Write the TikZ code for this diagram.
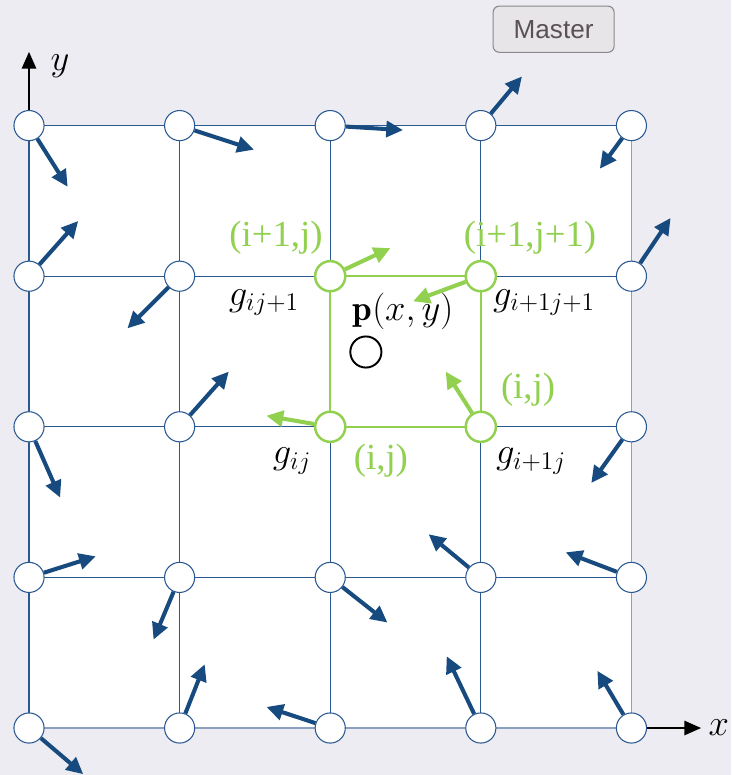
\documentclass[tikz,border=0pt]{standalone}
\usepackage{fontspec}
\usepackage{amsmath}
\usepackage{xcolor}
\usepackage{tikz}
\usetikzlibrary{arrows.meta, positioning}
\newfontfamily\idxfont{Liberation Serif}
\newfontfamily\btnfont{Liberation Sans}
\definecolor{canvas}{HTML}{EDECF2}
\definecolor{gridblue}{HTML}{2A5891}
\definecolor{edgeblue}{HTML}{8AA0BC}
\definecolor{vecblue}{HTML}{174A7E}
\definecolor{cellgreen}{HTML}{92D050}
\definecolor{btnfill}{HTML}{E7E5E8}
\definecolor{btnedge}{HTML}{8C888C}
\definecolor{btntext}{HTML}{5A5055}
\tikzset{
	gridpt/.style={circle, draw=gridblue, line width=0.6pt, fill=white,
		minimum size=0.6cm, inner sep=0pt},
	cellpt/.style={gridpt, draw=cellgreen, line width=1.4pt},
	vec/.style={-{Triangle[length=9.5pt,width=9pt]}, line width=2.3pt, vecblue},
	cellvec/.style={vec, cellgreen},
	axis/.style={-{Triangle[length=9.5pt,width=8pt]}, line width=1.3pt, black},
	idx/.style={font=\idxfont\fontsize{20.8}{24}\selectfont, text=cellgreen, inner sep=0pt},
	gval/.style={font=\fontsize{20}{23}\selectfont, inner sep=0pt},
	btn/.style={draw=btnedge, fill=btnfill, rounded corners=3.5pt, line width=0.6pt,
		minimum width=2.41cm, minimum height=0.92cm,
		font=\btnfont\fontsize{14.8}{17}\selectfont, text=btntext},
}

\begin{document}
\begin{tikzpicture}
		\useasboundingbox (-0.578,-0.936) rectangle (13.984,14.502);
		\fill[canvas] (-0.578,-0.936) rectangle (13.984,14.502);
		\fill[white] (0,0) rectangle (12,12);
		\draw[gridblue, line width=0.75pt] (0,0) grid[step=3] (12,12);
		\draw[edgeblue, line width=0.9pt] (0,0) -- (12,0) -- (12,12);
		\draw[cellgreen, line width=1.2pt] (6,6) rectangle (9,9);
		% grid points
		\foreach \c in {0,...,4}
			\foreach \r in {0,...,4}
				\node[gridpt] (n-\c-\r) at (3*\c,3*\r) {};
		\foreach \c/\r in {2/2,3/2,2/3,3/3}
			\node[cellpt] (n-\c-\r) at (3*\c,3*\r) {};
		% axes
		\coordinate (ytip) at (0,13.47);
		\coordinate (xtip) at (13.39,0);
		\draw[axis] (n-0-4) -- (ytip);
		\draw[axis] (n-4-0) -- (xtip);
		\node[gval] (ylab) at (0.62,13.18) {$y$};
		\node[gval] (xlab) at (13.74,0) {$x$};
		% gradient vectors
		\foreach \c/\r/\dx/\dy in {0/4/0.77/-1.22, 1/4/1.48/-0.48, 2/4/1.45/-0.09, 3/4/0.82/0.98, 4/4/-0.63/-0.86,
			0/3/0.98/1.10, 1/3/-1.04/-1.04, 4/3/0.78/1.16,
			0/2/0.62/-1.41, 1/2/0.98/1.10, 4/2/-0.80/-1.12,
			0/1/1.33/0.42, 1/1/-0.52/-1.24, 2/1/1.14/-0.90, 3/1/-1.04/0.86, 4/1/-1.31/0.50,
			0/0/1.08/-0.92, 1/0/0.50/1.27, 2/0/-1.27/0.42, 3/0/-0.68/1.43, 4/0/-0.68/1.14}{
			\path (n-\c-\r) ++(\dx,\dy) coordinate (t-\c-\r);
			\draw[vec] (n-\c-\r) -- (t-\c-\r);
		}
		\foreach \c/\r/\dx/\dy in {2/3/1.20/0.56, 3/3/-1.35/-0.50, 2/2/-1.27/0.22, 3/2/-0.70/1.10}{
			\path (n-\c-\r) ++(\dx,\dy) coordinate (t-\c-\r);
			\draw[cellvec] (n-\c-\r) -- (t-\c-\r);
		}
		% cell labels
		\node[idx] (i1j) at (4.92,9.76) {(i+1,j)};
		\node[idx] (i1j1) at (9.98,9.76) {(i+1,j+1)};
		\node[idx] (ijright) at (9.94,6.73) {(i,j)};
		\node[idx] (ijbelow) at (7.01,5.32) {(i,j)};
		\node[gval] (gij1) at (4.68,8.47) {$g_{ij+1}$};
		\node[gval] (gi1j1) at (10.26,8.47) {$g_{i+1j+1}$};
		\node[gval] (gij) at (5.24,5.32) {$g_{ij}$};
		\node[gval] (gi1j) at (10.0,5.32) {$g_{i+1j}$};
		\node[gval] (plab) at (7.45,8.29) {$\mathbf{p}(x,y)$};
		\node[circle, draw=black, line width=1.1pt, minimum size=0.62cm, inner sep=0pt] (pxy) at (6.71,7.49) {};
		% button
		\node[btn] (master) at (10.45,13.92) {Master};
	\end{tikzpicture}
\end{document}
